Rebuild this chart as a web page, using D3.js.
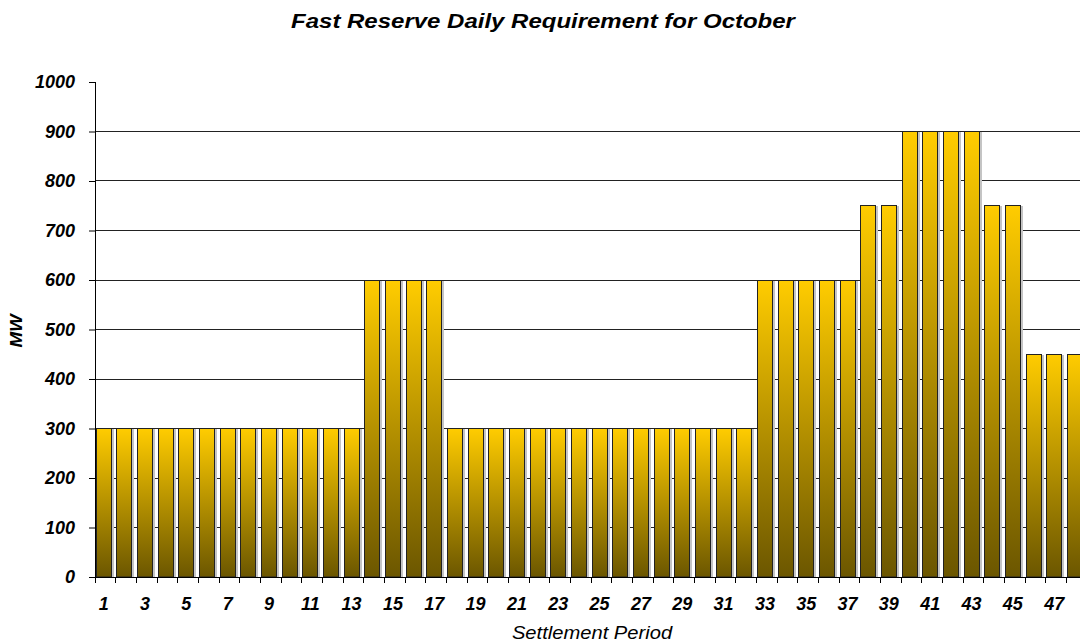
<!DOCTYPE html>
<html>
<head>
<meta charset="utf-8">
<script src="https://cdn.jsdelivr.net/npm/d3@7"></script>
<style>
  body { margin: 0; background: #fff; }
  svg text { font-family: Arial, "Liberation Sans", sans-serif; }
</style>
</head>
<body>
<div id="chart"></div>
<script>
(function () {

  // Data
  const periods = d3.range(1, 49)
  const requirement = [
    300, 300, 300, 300, 300, 300, 300, 300, 300, 300, 300, 300, 300,
    600, 600, 600, 600,
    300, 300, 300, 300, 300, 300, 300, 300, 300, 300, 300, 300, 300, 300, 300,
    600, 600, 600, 600, 600,
    750, 750,
    900, 900, 900, 900,
    750, 750,
    450, 450, 450
  ]
  const yTicks = [0, 100, 200, 300, 400, 500, 600, 700, 800, 900, 1000]
  const xLabels = periods.filter(p => p % 2 === 1)

  // Margin convention
  const margin = { top: 82, right: -6, bottom: 67, left: 95 }
  const width = 1080 - margin.left - margin.right
  const height = 644 - margin.top - margin.bottom

  const svg = d3.select("#chart").append("svg")
      .attr("width", 1080)
      .attr("height", 644)

  const defs = svg.append("defs")
  const grad = defs.append("linearGradient")
      .attr("id", "barGrad")
      .attr("x1", 0).attr("y1", 0).attr("x2", 0).attr("y2", 1)
  grad.append("stop").attr("offset", "0%").attr("stop-color", "#ffcc00")
  grad.append("stop").attr("offset", "100%").attr("stop-color", "#6b5600")

  const g = svg.append("g")
      .attr("transform", "translate(" + margin.left + "," + margin.top + ")")

  const x = d3.scaleBand()
    .domain(periods)
    .range([0, width])
    .paddingInner(0.24)
    .paddingOuter(0.1)
    .align(0.2)

  const y = d3.scaleLinear()
    .domain([0, 1000])
    .range([height, 0])

  // crisp pixel position
  const py = v => Math.floor(y(v)) + 0.5

  // Gridlines (no line at the top value)
  g.append("g")
    .selectAll("line")
    .data(yTicks.filter(t => t > 0 && t < 1000))
    .join("line")
      .attr("x1", 0)
      .attr("x2", width)
      .attr("y1", d => py(d))
      .attr("y2", d => py(d))
      .attr("stroke", "#222")
      .attr("stroke-width", 1)

  const data = periods.map((p, i) => ({ period: p, value: requirement[i] }))

  // Bar shadows
  g.append("g")
    .selectAll("rect")
    .data(data)
    .join("rect")
      .attr("x", d => Math.round(x(d.period)) + 2)
      .attr("y", d => Math.floor(y(d.value)) + 1)
      .attr("width", Math.round(x.bandwidth()))
      .attr("height", d => height - Math.floor(y(d.value)) - 1)
      .attr("fill", "#c4c4c4")

  // Bars
  g.append("g")
    .selectAll("rect")
    .data(data)
    .join("rect")
      .attr("x", d => Math.round(x(d.period)) + 0.5)
      .attr("y", d => py(d.value))
      .attr("width", Math.round(x.bandwidth()) - 1)
      .attr("height", d => height - py(d.value))
      .attr("fill", "url(#barGrad)")
      .attr("stroke", "#222")
      .attr("stroke-width", 1)

  // Y axis
  const yAxis = g.append("g")
    .call(d3.axisLeft(y).tickValues(yTicks).tickFormat(d3.format("d")).tickSize(6).tickPadding(14))
  yAxis.select(".domain").attr("stroke", "#000").attr("d", "M0.5," + y(1000) + "V" + height)
  yAxis.selectAll(".tick line").attr("stroke", "#000")
  yAxis.selectAll("text")
    .attr("fill", "#000")
    .style("font-size", "18px")
    .style("font-weight", "bold")
    .style("font-style", "italic")

  // X axis: ticks at category boundaries
  const gapShift = (x.step() - x.bandwidth()) * 0.2
  const xAxis = g.append("g")
    .attr("transform", "translate(0," + height + ")")
  xAxis.append("line")
    .attr("x1", 0).attr("x2", width)
    .attr("y1", 0.5).attr("y2", 0.5)
    .attr("stroke", "#000")
  xAxis.selectAll(".xtick")
    .data(periods)
    .join("line")
      .attr("class", "xtick")
      .attr("x1", d => Math.round(x(d) - gapShift) + 0.5)
      .attr("x2", d => Math.round(x(d) - gapShift) + 0.5)
      .attr("y1", 0)
      .attr("y2", 6)
      .attr("stroke", "#000")
  xAxis.selectAll(".xlabel")
    .data(xLabels)
    .join("text")
      .attr("class", "xlabel")
      .attr("x", d => x(d) + x.bandwidth() / 2)
      .attr("y", 33)
      .attr("text-anchor", "middle")
      .style("font-size", "18px")
      .style("font-weight", "bold")
      .style("font-style", "italic")
      .text(d => d)

  // Titles (the original text is a little stretched horizontally)
  svg.append("text")
    .attr("transform", "translate(543,28) scale(1.2,1)")
    .attr("text-anchor", "middle")
    .style("font-size", "20px")
    .style("font-weight", "bold")
    .style("font-style", "italic")
    .text("Fast Reserve Daily Requirement for October")

  svg.append("text")
    .attr("transform", "translate(22,331) rotate(-90) scale(1.1,1)")
    .attr("text-anchor", "middle")
    .style("font-size", "17px")
    .style("font-weight", "bold")
    .style("font-style", "italic")
    .text("MW")

  svg.append("text")
    .attr("transform", "translate(592,639) scale(1.12,1)")
    .attr("text-anchor", "middle")
    .style("font-size", "18px")
    .style("font-style", "italic")
    .text("Settlement Period")
})();
</script>
</body>
</html>
